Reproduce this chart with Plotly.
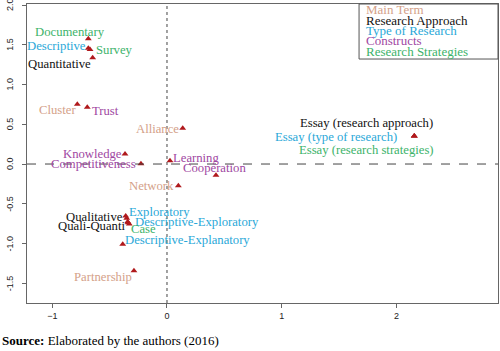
import plotly.graph_objects as go

# Data
labels = ["Documentary", "Descriptive", "Survey", "Quantitative", "Cluster", "Trust",
          "Alliance", "Knowledge", "Competitiveness", "Learning", "Cooperation", "Network",
          "Exploratory", "Qualitative", "Descriptive-Exploratory", "Quali-Quanti", "Case",
          "Descriptive-Explanatory", "Partnership",
          "Essay (research approach)", "Essay (type of research)", "Essay (research strategies)"]
x_vals = [-0.686, -0.686, -0.671, -0.648, -0.782, -0.695,
          0.137, -0.366, -0.227, 0.026, 0.427, 0.099,
          -0.351, -0.360, -0.343, -0.340, -0.329,
          -0.386, -0.288,
          2.156, 2.156, 2.156]
y_vals = [1.576, 1.455, 1.440, 1.337, 0.751, 0.713,
          0.449, 0.126, 0.004, 0.042, -0.142, -0.273,
          -0.683, -0.654, -0.725, -0.740, -0.755,
          -1.010, -1.342,
          0.352, 0.352, 0.352]
groups = ["Research Strategies", "Type of Research", "Research Strategies", "Research Approach",
          "Main Term", "Constructs", "Main Term", "Constructs", "Constructs", "Constructs",
          "Constructs", "Main Term", "Type of Research", "Research Approach", "Type of Research",
          "Research Approach", "Research Strategies", "Type of Research", "Main Term",
          "Research Approach", "Type of Research", "Research Strategies"]
legend_items = ["Main Term", "Research Approach", "Type of Research", "Constructs", "Research Strategies"]
x_ticks = [-1, 0, 1, 2]
y_ticks = [-1.5, -1.0, -0.5, 0.0, 0.5, 1.0, 1.5, 2.0]

# Styles
colors = {"Main Term": "#D4A189", "Research Approach": "#111111", "Type of Research": "#2AA8D8",
          "Constructs": "#A047A2", "Research Strategies": "#3CB36A"}
# label offsets in pixels (dx right, dy down)
offsets = [(-18, -7), (-32, -2), (24, 0), (-33, 6), (-20, 6), (18, 4),
           (-25, 1), (-33, 0), (-47, 0), (26, -3), (-1, -7), (-27, 0),
           (33, -6), (-31, 1), (69, 0), (-37, 3), (14, 5),
           (65, -4), (-31, 6),
           (-48, -13), (-78, 1), (-48, 14)]

serif = "Liberation Serif, Times New Roman, serif"
sans = "Liberation Sans, Arial, sans-serif"
fig = go.Figure()
fig.add_trace(go.Scatter(x=x_vals, y=y_vals, mode="markers",
                         marker=dict(symbol="triangle-up", size=6, color="#B0191C"),
                         showlegend=False, hoverinfo="skip"))

for lab, xv, yv, g, (dx, dy) in zip(labels, x_vals, y_vals, groups, offsets):
    fig.add_annotation(x=xv, y=yv, text=lab, showarrow=False, xanchor="center", yanchor="middle",
                       xshift=dx, yshift=-dy, font=dict(family=serif, size=12.7, color=colors[g]))

# reference lines
fig.add_vline(x=0, line=dict(color="#444", width=1, dash="dot"))
fig.add_hline(y=0, line=dict(color="#444", width=1, dash="dash"))

# legend box
fig.add_shape(type="rect", xref="paper", yref="paper", x0=0.705, x1=1.0, y0=0.816, y1=1.0,
              line=dict(color="#555", width=1), fillcolor="white")
for i, item in enumerate(legend_items):
    fig.add_annotation(xref="paper", yref="paper", x=(364 - 27) / 471, y=1 - (10 + 10.3 * i - 4) / 299,
                       text=item, showarrow=False, xanchor="left", yanchor="middle",
                       font=dict(family=serif, size=13, color=colors[item]))

# y tick labels (rotated, R style) as annotations so the top one is not dropped
for t in y_ticks:
    fig.add_annotation(xref="paper", yref="y", x=(10 - 27) / 471, y=t, text=f"{t:.1f}",
                       showarrow=False, textangle=-90, xanchor="center", yanchor="middle",
                       font=dict(family=sans, size=9, color="#222"))

fig.add_annotation(xref="paper", yref="paper", x=-27 / 471, y=-(340 - 303) / 299,
                   text="<b>Source:</b> Elaborated by the authors (2016)", showarrow=False,
                   xanchor="left", yanchor="middle", font=dict(family=serif, size=13, color="black"))

axis_common = dict(showgrid=False, zeroline=False, showline=True, mirror=True, linecolor="#666",
                   linewidth=1, ticks="outside", ticklen=4, tickcolor="#666", automargin=False,
                   tickfont=dict(family=sans, size=9, color="#222"))
fig.update_xaxes(range=[-1.2206, 2.886], tickvals=x_ticks, **axis_common)
fig.update_yaxes(range=[-1.748, 2.013], tickvals=y_ticks, showticklabels=False, **axis_common)

fig.update_layout(width=500, height=351, margin=dict(l=27, r=2, t=4, b=48),
                  plot_bgcolor="white", paper_bgcolor="white", showlegend=False)
fig.write_html("out.html", config={"displayModeBar": False},
               post_script="document.body.style.margin='0';document.body.style.overflow='hidden';")
